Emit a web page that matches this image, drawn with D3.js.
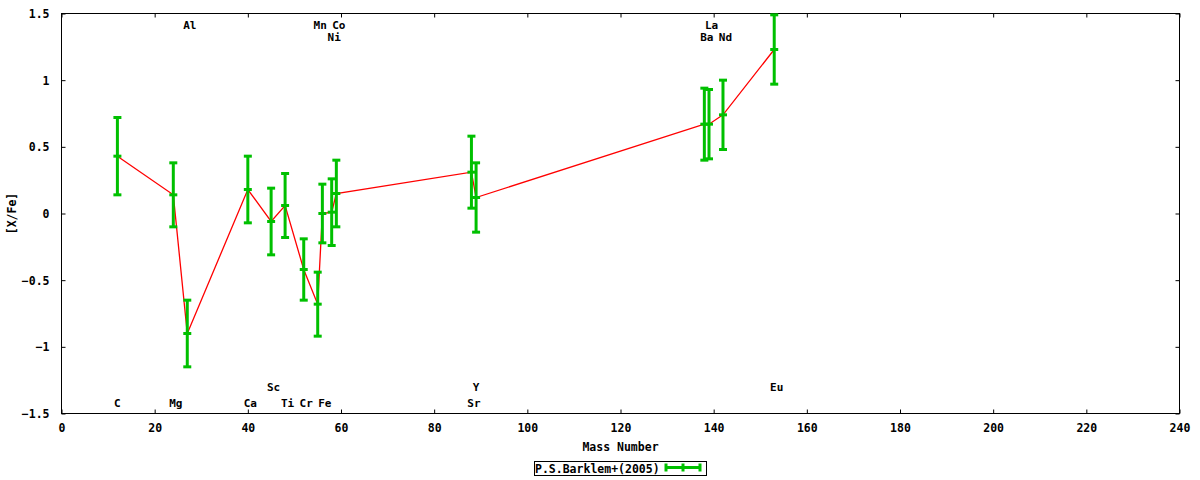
<!DOCTYPE html>
<html>
<head>
<meta charset="utf-8">
<script src="https://cdn.jsdelivr.net/npm/d3@7/dist/d3.min.js"></script>
<style>
  html, body { margin: 0; padding: 0; background: #fff; }
  svg { display: block; }
  text { font-family: "DejaVu Sans Mono", "Liberation Mono", monospace; font-weight: bold; font-size: 11.5px; fill: #000; }
  text.el { font-size: 11px; }
</style>
</head>
<body>
<svg id="chart" width="1200" height="480"></svg>
<script>
// ---- data ----
const elements = ["C","Mg","Al","Ca","Sc","Ti","Cr","Mn","Fe","Ni","Co","Sr","Y","Ba","La","Nd","Eu"];
const massNumbers = [12, 24, 27, 40, 45, 48, 52, 55, 56, 58, 59, 88, 89, 138, 139, 142, 153];
const xFe = [0.43, 0.14, -0.90, 0.18, -0.06, 0.06, -0.42, -0.68, 0.00, 0.01, 0.15, 0.31, 0.12, 0.67, 0.67, 0.74, 1.23];
const xFeErr = [0.29, 0.24, 0.25, 0.25, 0.25, 0.24, 0.23, 0.24, 0.22, 0.25, 0.25, 0.27, 0.26, 0.27, 0.26, 0.26, 0.26];
// element label rows: "top1","top2","bot1","bot2"
const labelRows = ["bot2","bot2","top1","bot2","bot1","bot2","bot2","top1","bot2","top2","top1","bot2","bot1","top2","top1","top2","bot1"];
const xTicks = [0, 20, 40, 60, 80, 100, 120, 140, 160, 180, 200, 220, 240];
const yTicks = [-1.5, -1, -0.5, 0, 0.5, 1, 1.5];
const seriesName = "P.S.Barklem+(2005)";
const xTitle = "Mass Number";
const yTitle = "[X/Fe]";

// ---- layout ----
const svg = d3.select("#chart");
const L = 61.5, R = 1179.5, T = 13.5, B = 413.5;
const x = d3.scaleLinear().domain([0, 240]).range([L, R]);
const y = d3.scaleLinear().domain([-1.5, 1.5]).range([B, T]);
const red = "#ff0000", green = "#00c000";

// frame
svg.append("rect").attr("x", L).attr("y", T).attr("width", R - L).attr("height", B - T)
  .attr("fill", "none").attr("stroke", "#000").attr("stroke-width", 1);

// axes (inward ticks, mirrored)
const tl = 4;
const axB = svg.append("g").attr("transform", `translate(0,${B})`)
  .call(d3.axisBottom(x).tickValues(xTicks).tickSizeInner(-tl).tickSizeOuter(0).tickPadding(10).tickFormat(d3.format("d")));
const axT = svg.append("g").attr("transform", `translate(0,${T})`)
  .call(d3.axisTop(x).tickValues(xTicks).tickSizeInner(-tl).tickSizeOuter(0).tickFormat(""));
const axL = svg.append("g").attr("transform", `translate(${L},0)`)
  .call(d3.axisLeft(y).tickValues(yTicks).tickSizeInner(-tl).tickSizeOuter(0).tickPadding(12).tickFormat(d => d3.format("")(d)));
const axR = svg.append("g").attr("transform", `translate(${R},0)`)
  .call(d3.axisRight(y).tickValues(yTicks).tickSizeInner(-tl).tickSizeOuter(0).tickFormat(""));
[axB, axT, axL, axR].forEach(a => {
  a.select(".domain").remove();
  a.selectAll(".tick line").attr("stroke", "#000");
  a.selectAll("text").attr("font-family", null).attr("font-size", null).attr("fill", "#000");
});
axB.selectAll(".tick text").attr("dy", "0.71em").attr("y", 10);
axL.selectAll(".tick text").attr("dy", "0.35em");

// titles
svg.append("text").attr("x", (L + R) / 2).attr("y", 451).attr("text-anchor", "middle").text(xTitle);
svg.append("text").attr("transform", `translate(16,${(T + B) / 2}) rotate(-90)`).attr("text-anchor", "middle").text(yTitle);

// data
const data = elements.map((e, i) => ({ el: e, m: massNumbers[i], v: xFe[i], err: xFeErr[i], row: labelRows[i] }));

// line
svg.append("path").datum(data)
  .attr("fill", "none").attr("stroke", red).attr("stroke-width", 1.3)
  .attr("d", d3.line().x(d => x(d.m)).y(d => y(d.v)));

// error bars
const cw = 4;
const eb = svg.append("g").attr("stroke", green).attr("stroke-width", 3).attr("fill", "none");
data.forEach(d => {
  const cx = x(d.m);
  const y0 = y(d.v - d.err), y1 = y(d.v + d.err), yc = y(d.v);
  eb.append("line").attr("x1", cx).attr("x2", cx).attr("y1", y0).attr("y2", y1);
  [y0, y1, yc].forEach(yy => eb.append("line").attr("x1", cx - cw).attr("x2", cx + cw).attr("y1", yy).attr("y2", yy));
});

// element labels
const rowY = { top1: 29, top2: 41, bot1: 391, bot2: 407 };
svg.append("g").selectAll("text").data(data).join("text")
  .attr("class", "el")
  .attr("x", d => x(d.m) + (d.el.length > 1 ? 2.5 : 0))
  .attr("y", d => rowY[d.row])
  .attr("text-anchor", "middle")
  .text(d => d.el);

// legend
const lg = svg.append("g");
lg.append("rect").attr("x", 534.5).attr("y", 461.5).attr("width", 172).attr("height", 14)
  .attr("fill", "none").attr("stroke", "#000").attr("stroke-width", 1);
lg.append("text").attr("x", 535).attr("y", 472.5).text(seriesName);
const lx0 = 666, lx1 = 700, ly = 467.5;
const lgs = lg.append("g").attr("stroke", green).attr("stroke-width", 3);
lgs.append("line").attr("x1", lx0).attr("x2", lx1).attr("y1", ly).attr("y2", ly);
[lx0, (lx0 + lx1) / 2, lx1].forEach(xx => lgs.append("line").attr("x1", xx).attr("x2", xx).attr("y1", ly - 4).attr("y2", ly + 4));
</script>
</body>
</html>
